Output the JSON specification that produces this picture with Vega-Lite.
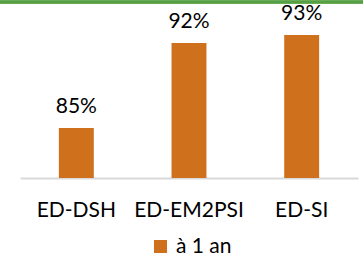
{
  "$schema": "https://vega.github.io/schema/vega-lite/v6.json",
  "width": 363,
  "height": 176,
  "autosize": "none",
  "padding": {"left": 0, "right": 0, "top": 2, "bottom": 77},
  "background": "white",
  "config": {"view": {"stroke": null}, "font": "Lato"},
  "data": {"values": [
    {"formation": "ED-DSH", "serie": "à 1 an", "taux": 0.8455},
    {"formation": "ED-EM2PSI", "serie": "à 1 an", "taux": 0.9227},
    {"formation": "ED-SI", "serie": "à 1 an", "taux": 0.930}
  ]},
  "layer": [
    {
      "mark": {"type": "bar"},
      "encoding": {
        "x": {"field": "formation", "type": "nominal", "sort": null,
          "scale": {"range": [20, 358], "paddingInner": 0.69, "paddingOuter": 0.345},
          "axis": {"title": null, "labelAngle": 0, "ticks": false, "tickSize": 0, "labelPadding": 21,
            "labelFontSize": 21, "labelColor": "#000000", "labelFont": "Lato",
            "domainColor": "#d9d9d9", "domainWidth": 2, "grid": false}},
        "y": {"field": "taux", "type": "quantitative",
          "scale": {"domain": [0.80, 0.96], "zero": false, "nice": false},
          "axis": null},
        "y2": {"datum": 0.80},
        "color": {"field": "serie", "type": "nominal",
          "scale": {"range": ["#CF701D"]},
          "legend": {"title": null, "orient": "none", "legendX": 150, "legendY": 234,
            "symbolType": "square", "symbolSize": 169, "symbolStrokeWidth": 0,
            "labelFontSize": 21, "labelFont": "Lato", "labelColor": "#000000",
            "labelOffset": 5}}
      }
    },
    {
      "mark": {"type": "text", "baseline": "alphabetic", "dy": -15, "fontSize": 21, "font": "Lato", "color": "#000000"},
      "encoding": {
        "x": {"field": "formation", "type": "nominal", "sort": null},
        "y": {"field": "taux", "type": "quantitative"},
        "text": {"field": "taux", "type": "quantitative", "format": ".0%"}
      }
    },
    {
      "mark": {"type": "rule", "color": "#55a042", "strokeWidth": 3},
      "encoding": {"y": {"datum": 0.96}}
    }
  ]
}
